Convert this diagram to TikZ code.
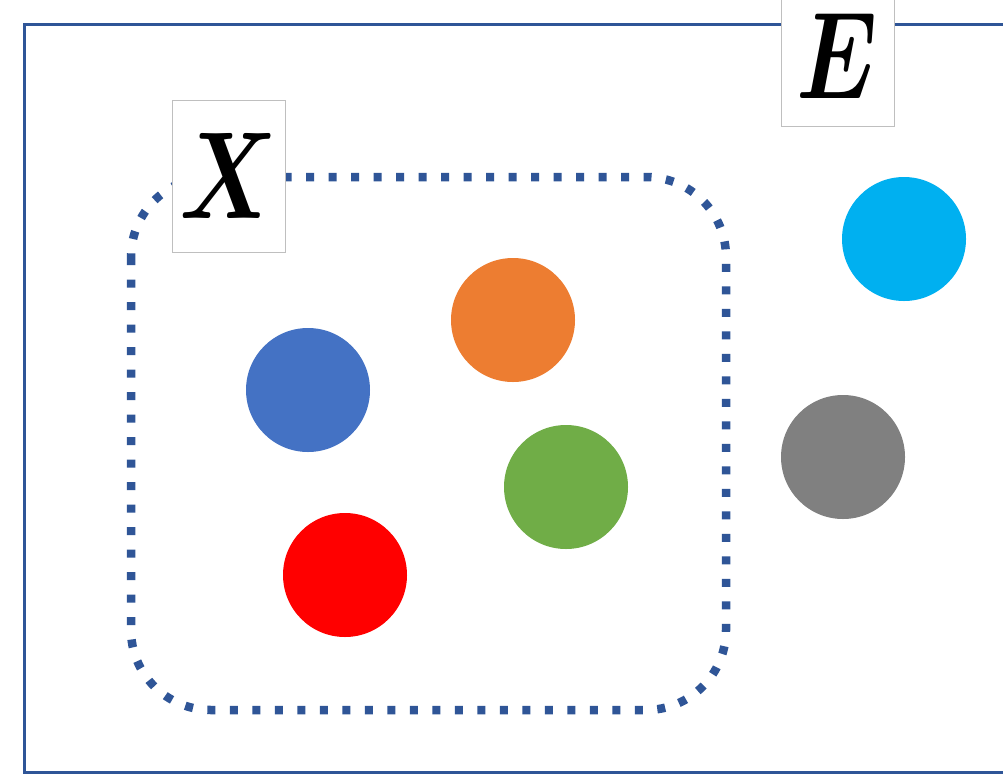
\documentclass[tikz,border=0pt]{standalone}
\usepackage{graphicx}
\begin{document}
\begin{tikzpicture}[x=1pt,y=-1pt,
  frame/.style={draw=frameblue,line width=3pt},
  dotline/.style={draw=frameblue,line width=8.5pt,dash pattern=on 8pt off 14.5pt,rounded corners=80pt},
  labelbox/.style={draw=gray!50,fill=white,line width=0.8pt,minimum width=113pt,inner sep=0pt},
  dot/.style={circle,minimum size=124pt,inner sep=0pt}]
\definecolor{frameblue}{HTML}{2F5597}
\definecolor{cblue}{HTML}{4472C4}
\definecolor{corange}{HTML}{ED7D31}
\definecolor{cgreen}{HTML}{70AD47}
\definecolor{cred}{HTML}{FF0000}
\definecolor{ccyan}{HTML}{00B0F0}
\definecolor{cgray}{HTML}{808080}
\useasboundingbox (0,0) rectangle (1003,782);
\fill[white] (0,0) rectangle (1003,782);
\draw[frame] (24,24) rectangle (1015,772);
\draw[dotline] (131,177) rectangle (726,710);
\node[labelbox,minimum height=152pt] (X) at (228.5,176) {\scalebox{9.6}[12.4]{\boldmath$X$}};
\node[labelbox,minimum height=140pt] (E) at (837.5,56) {\raisebox{-4pt}{\scalebox{9.4}[12.4]{\boldmath$E$}}};
\node[dot,fill=cblue] (b) at (308,390) {};
\node[dot,fill=corange] (o) at (513,320) {};
\node[dot,fill=cgreen] (g) at (566,487) {};
\node[dot,fill=cred] (r) at (345,575) {};
\node[dot,fill=ccyan] (c) at (904,239) {};
\node[dot,fill=cgray] (k) at (843,457) {};
\end{tikzpicture}
\end{document}
